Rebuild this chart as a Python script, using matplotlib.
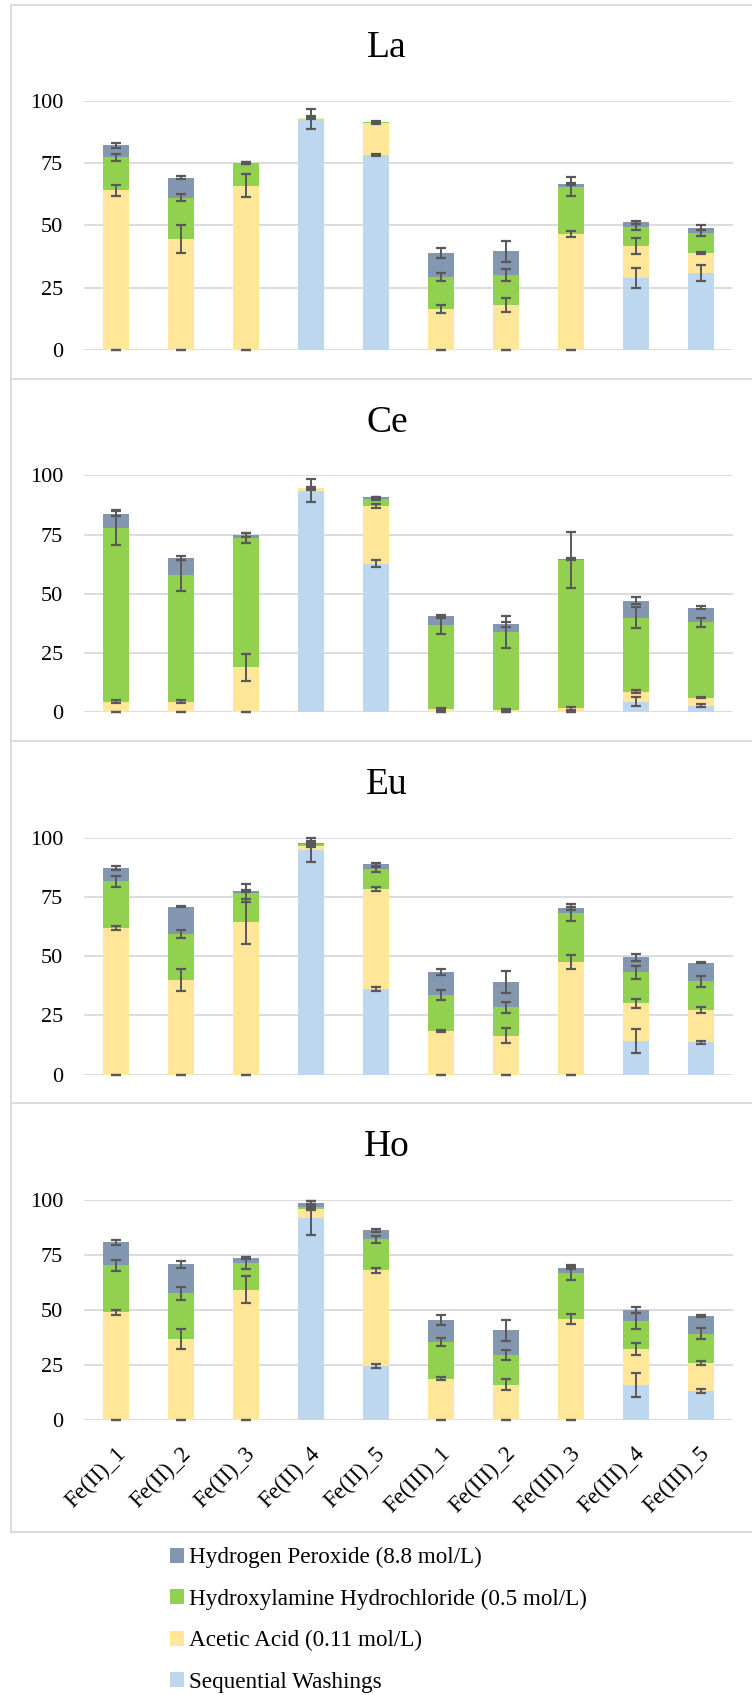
import matplotlib
matplotlib.use("Agg")
import matplotlib.pyplot as plt
from matplotlib.lines import Line2D
from matplotlib.patches import Patch
from matplotlib.transforms import ScaledTranslation
import numpy as np

# Muestras y series (de abajo hacia arriba en cada barra)
samples = ["Fe(II)_1", "Fe(II)_2", "Fe(II)_3", "Fe(II)_4", "Fe(II)_5",
           "Fe(III)_1", "Fe(III)_2", "Fe(III)_3", "Fe(III)_4", "Fe(III)_5"]
series = ["Sequential Washings", "Acetic Acid (0.11 mol/L)",
          "Hydroxylamine Hydrochloride (0.5 mol/L)", "Hydrogen Peroxide (8.8 mol/L)"]
elements = ["La", "Ce", "Eu", "Ho"]

# Valores por etapa: [lavados, acético, hidroxilamina, peróxido]
la_vals = [
    [0, 0, 0, 92.5, 78.2, 0, 0, 0, 29.0, 30.9],
    [64.0, 44.5, 65.9, 0.7, 12.8, 16.4, 18.0, 46.5, 12.8, 8.0],
    [13.3, 16.6, 9.1, 0, 0.4, 12.9, 12.1, 19.0, 7.7, 7.9],
    [4.8, 8.0, 0, 0, 0, 9.6, 9.5, 0.9, 1.8, 2.3],
]
la_err = [
    [0, 0, 0, 4.0, 0.5, 0, 0, 0, 4.0, 3.2],
    [2.2, 5.7, 4.5, 0.5, 0.5, 1.5, 2.9, 1.3, 3.3, 0.5],
    [1.4, 1.3, 0.5, 0, 0.3, 1.7, 2.3, 3.7, 1.2, 1.2],
    [1.1, 0.5, 0.3, 0, 0, 2.1, 4.3, 0.4, 0.6, 0.9],
]
ce_vals = [
    [0, 0, 0, 93.5, 62.6, 0, 0, 0, 4.5, 2.8],
    [4.4, 4.4, 19.0, 1.0, 24.5, 1.4, 1.0, 1.7, 4.2, 3.4],
    [73.5, 53.4, 54.6, 0, 3.1, 35.4, 32.9, 62.6, 31.2, 31.9],
    [5.9, 7.3, 1.2, 0, 0.5, 3.7, 3.2, 0.4, 7.2, 6.1],
]
ce_err = [
    [0, 0, 0, 4.8, 1.5, 0, 0, 0, 2.0, 0.5],
    [0.6, 0.6, 5.7, 0.5, 0.8, 0.3, 0.3, 0.6, 0.5, 0.3],
    [7.5, 6.5, 2.0, 0.3, 0.5, 3.8, 6.6, 11.7, 4.5, 1.9],
    [1.0, 1.0, 0.8, 0.3, 0.3, 0.7, 1.0, 0.3, 1.5, 0.8],
]
eu_vals = [
    [0, 0, 0, 94.8, 36.1, 0, 0, 0, 14.2, 13.6],
    [62.0, 39.9, 64.6, 1.8, 42.2, 18.6, 16.5, 47.5, 15.9, 13.7],
    [19.6, 19.3, 12.0, 0.7, 8.3, 15.0, 11.9, 20.9, 13.1, 12.1],
    [5.5, 11.7, 0.9, 0.6, 2.1, 9.7, 10.7, 1.8, 6.3, 7.9],
]
eu_err = [
    [0, 0, 0, 4.9, 0.9, 0, 0, 0, 5.0, 0.8],
    [0.9, 4.6, 9.5, 0.6, 0.8, 0.4, 3.0, 2.8, 2.0, 1.4],
    [2.2, 1.7, 3.9, 0.5, 1.0, 2.1, 2.3, 3.6, 2.8, 2.2],
    [0.8, 0.3, 0.3, 0.8, 0.5, 1.4, 4.5, 0.7, 1.6, 0.3],
]
ho_vals = [
    [0, 0, 0, 91.7, 24.5, 0, 0, 0, 15.8, 13.0],
    [48.8, 36.7, 59.1, 4.1, 43.5, 18.6, 15.9, 45.8, 16.3, 12.8],
    [21.4, 20.7, 12.1, 1.0, 14.0, 16.7, 13.5, 21.0, 12.6, 13.3],
    [10.4, 13.2, 2.3, 1.8, 4.2, 10.0, 11.2, 2.1, 5.1, 8.0],
]
ho_err = [
    [0, 0, 0, 7.9, 0.9, 0, 0, 0, 5.3, 0.9],
    [1.1, 4.5, 6.1, 0.5, 1.1, 0.6, 2.6, 2.3, 2.6, 1.1],
    [2.4, 3.0, 2.9, 0.5, 1.5, 2.0, 2.3, 3.3, 3.6, 2.5],
    [1.1, 1.6, 0.5, 0.6, 0.7, 2.1, 4.8, 0.5, 1.5, 0.4],
]
y_ticks = [0, 25, 50, 75, 100]

colors = ["#BDD7EE", "#FFE699", "#92D050", "#8497B0"]
err_color = "#595959"
grid_color = "#D9D9D9"

plt.rcParams["font.family"] = ["Liberation Serif", "DejaVu Serif"]

W, H = 752, 1695
fig = plt.figure(figsize=(W / 100, H / 100), dpi=100)


def fx(px):
    return px / W


def fy(py):
    return 1 - py / H


# (arriba del 100, línea del 0, centro del título) en píxeles
panels = [(100.7, 350.0, 48), (475.3, 712.3, 423), (837.7, 1074.7, 785), (1199.7, 1419.7, 1147)]
data = [(la_vals, la_err), (ce_vals, ce_err), (eu_vals, eu_err), (ho_vals, ho_err)]
x_left, x_right = 84, 733

x = np.arange(len(samples))
for i, (name, (vals, errs), (top, bot, ty)) in enumerate(zip(elements, data, panels)):
    ax = fig.add_axes([fx(x_left), fy(bot), fx(x_right - x_left), (bot - top) / H])
    bottom = np.zeros(len(samples))
    for k in range(4):
        v = np.array(vals[k], dtype=float)
        ax.bar(x, v, 0.4, bottom=bottom, color=colors[k], zorder=2, linewidth=0)
        bottom = bottom + v
        ax.errorbar(x, bottom, yerr=errs[k], fmt="none", ecolor=err_color,
                    elinewidth=1.4, capsize=3.8, capthick=1.6, zorder=3, clip_on=False)
    ax.set_xlim(-0.5, len(samples) - 0.5)
    ax.set_ylim(0, 100)
    ax.set_yticks(y_ticks)
    ax.yaxis.grid(True, color=grid_color, linewidth=1.3, zorder=0)
    ax.set_axisbelow(True)
    for s in ax.spines.values():
        s.set_visible(False)
    ax.tick_params(axis="y", length=0, labelsize=16, pad=15)
    ax.tick_params(axis="x", length=0)
    ax.set_xticks(x)
    if i == len(elements) - 1:
        ax.set_xticklabels(samples, rotation=45, ha="right", va="center",
                           rotation_mode="anchor", fontsize=16.5)
        ax.tick_params(axis="x", pad=22)
        shift = ScaledTranslation(0.06, 0, fig.dpi_scale_trans)
        for lab in ax.get_xticklabels():
            lab.set_transform(lab.get_transform() + shift)
    else:
        ax.set_xticklabels([])
    fig.text(fx(387), fy(ty), name, ha="center", va="center", fontsize=27)

# Marco de los paneles
for yb in [5.3, 379, 741, 1103, 1532]:
    fig.add_artist(Line2D([fx(10.7), 1.0], [fy(yb), fy(yb)], color=grid_color, linewidth=1.3))
fig.add_artist(Line2D([fx(10.7), fx(10.7)], [fy(5.3), fy(1532)], color=grid_color, linewidth=1.3))

handles = [Patch(facecolor=colors[k], label=series[k]) for k in range(3, -1, -1)]
fig.legend(handles=handles, loc="upper left", bbox_to_anchor=(fx(170), fy(1547)),
           frameon=False, fontsize=16.7, handlelength=0.62, handleheight=0.62,
           handletextpad=0.2, labelspacing=0.88, borderpad=0, borderaxespad=0)

fig.savefig("out.png", dpi=100)
